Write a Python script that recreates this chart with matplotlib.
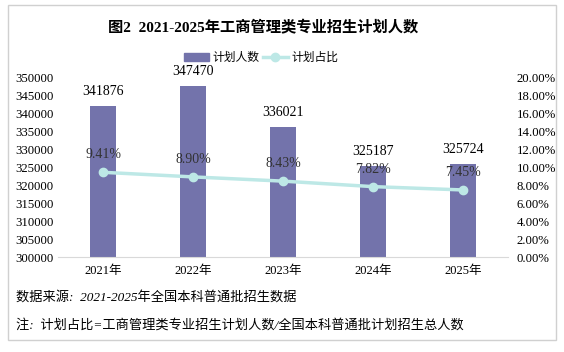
import matplotlib
matplotlib.use("Agg")
import matplotlib.pyplot as plt
from matplotlib.patches import Rectangle
from matplotlib.lines import Line2D
from matplotlib.ticker import FuncFormatter

plt.rcParams['font.family'] = ['Liberation Serif', 'Noto Sans CJK SC', 'DejaVu Sans']

# data
years = ["2021年", "2022年", "2023年", "2024年", "2025年"]
plan_counts = [341876, 347470, 336021, 325187, 325724]
plan_share = [9.41, 8.90, 8.43, 7.82, 7.45]

bar_color = "#7373ab"
line_color = "#bde8e6"

fig = plt.figure(figsize=(5.64, 3.52), dpi=100)

# outer frame
fig.patches.append(Rectangle((8 / 564, 1 - 340 / 352), 548 / 564, 335 / 352,
                             transform=fig.transFigure, fill=False,
                             edgecolor="#d0d0d0", linewidth=1.0))

ax = fig.add_axes([58 / 564, 1 - 257 / 352, 450 / 564, 180 / 352])
x = range(len(years))
ax.bar(x, plan_counts, width=0.29, color=bar_color, zorder=2)
ax.set_ylim(300000, 350000)
ax.set_yticks(range(300000, 350001, 5000))
ax.set_xlim(-0.5, len(years) - 0.5)
ax.set_xticks(list(x))
ax.set_xticklabels(years, fontsize=9)
ax.tick_params(axis="y", labelsize=9.2, length=0, pad=3)
ax.tick_params(axis="x", length=0, pad=6)
for s in ["top", "right", "left"]:
    ax.spines[s].set_visible(False)
ax.spines["bottom"].set_color("#d9d9d9")

for i, v in enumerate(plan_counts):
    ax.annotate(str(v), (i, v), xytext=(0, 6), textcoords="offset points",
                ha="center", va="bottom", fontsize=10)

ax2 = ax.twinx()
ax2.plot(list(x), plan_share, color=line_color, linewidth=2.5, marker="o",
         markersize=6, zorder=3)
ax2.set_ylim(0, 20)
ax2.set_yticks(range(0, 21, 2))
ax2.yaxis.set_major_formatter(FuncFormatter(lambda v, p: f"{v:.2f}%"))
ax2.tick_params(axis="y", labelsize=9.2, length=0, pad=6)
for s in ["top", "right", "left", "bottom"]:
    ax2.spines[s].set_visible(False)

for i, v in enumerate(plan_share):
    ax2.annotate(f"{v:.2f}%", (i, v), xytext=(0, 8), textcoords="offset points",
                 ha="center", va="bottom", fontsize=10, color="#333333")

fig.text(0.467, 1 - 28 / 352, "图2  2021-2025年工商管理类专业招生计划人数",
         ha="center", va="center", fontsize=11, fontweight="bold")

handles = [Rectangle((0, 0), 1, 1, color=bar_color),
           Line2D([0], [0], color=line_color, linewidth=2.5, marker="o", markersize=6)]
fig.legend(handles, ["计划人数", "计划占比"], loc="center",
           bbox_to_anchor=(0.463, 1 - 58 / 352), ncol=2, frameon=False,
           fontsize=8.5, handlelength=2.1, columnspacing=0.3, handletextpad=0.3)

fig.text(16 / 564, 1 - 297 / 352, "数据来源:  2021-2025年全国本科普通批招生数据",
         ha="left", va="center", fontsize=9.5, style="italic")
fig.text(16 / 564, 1 - 325 / 352, "注:  计划占比=工商管理类专业招生计划人数/全国本科普通批计划招生总人数",
         ha="left", va="center", fontsize=9.5, style="italic")

fig.savefig("out.png", dpi=100)
